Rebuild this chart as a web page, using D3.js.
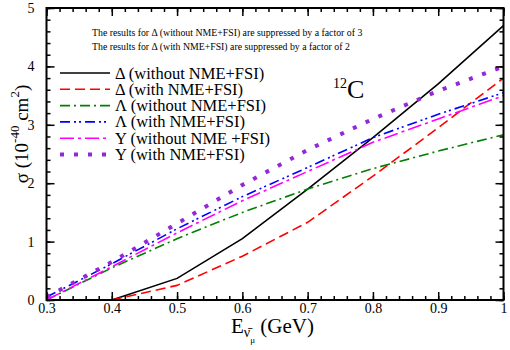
<!DOCTYPE html>
<html><head><meta charset="utf-8">
<script src="https://cdn.jsdelivr.net/npm/d3@7"></script>
<style>body{margin:0;background:#fff}svg{display:block}</style>
</head><body>
<script>
const energies = [0.3,0.4,0.5,0.6,0.7,0.8,0.9,1.0];
const deltaWithout = [null,0,0.37,1.05,1.9,2.78,3.7,4.7];
const deltaWith    = [null,0,0.25,0.75,1.33,2.12,2.95,3.8];
const lambdaWithout= [0,0.55,1.05,1.5,1.9,2.25,2.55,2.83];
const lambdaWith   = [0.05,0.62,1.22,1.77,2.27,2.78,3.18,3.55];
const yWithout     = [0,0.57,1.15,1.7,2.2,2.7,3.1,3.5];
const yWith        = [0.05,0.65,1.31,1.97,2.57,3.1,3.58,4.0];
const seriesNames = ["Δ (without NME+FSI)","Δ (with NME+FSI)","Λ (without NME+FSI)","Λ (with NME+FSI)","Y (without NME +FSI)","Y (with NME+FSI)"];
const seriesValues = [deltaWithout,deltaWith,lambdaWithout,lambdaWith,yWithout,yWith];
const colors = ["#000000","#ff0000","#008000","#0000ff","#ff00ff","#9329d6"];
const dashes = [null,"10,5","10,4,2,4","10,4,2,3,2,4","14,4,3,4","4,10"];
const widths = [1.6,1.6,1.6,1.6,1.6,4];
const xTicks = [0.3,0.4,0.5,0.6,0.7,0.8,0.9,1];
const yTicks = [0,1,2,3,4,5];
const notes = ["The results for Δ (without NME+FSI) are suppressed by a factor of 3",
               "The results for Δ (with NME+FSI) are suppressed by a factor of 2"];

const FF = "Liberation Serif";
const W=510,H=350, L=46.5, R=503.5, T=8, B=300;
const svg=d3.select("body").append("svg").attr("width",W).attr("height",H).attr("font-family",FF);
const x=d3.scaleLinear().domain([0.3,1]).range([L,R]);
const y=d3.scaleLinear().domain([0,5]).range([B,T]);

svg.append("clipPath").attr("id","c").append("rect").attr("x",L).attr("y",T-3).attr("width",R-L).attr("height",B-T+3);
const line=d3.line().defined(d=>d[1]!=null).x(d=>x(d[0])).y(d=>y(d[1]));
const g=svg.append("g").attr("clip-path","url(#c)");
seriesValues.forEach((vals,i)=>{
  g.append("path").datum(energies.map((e,j)=>[e,vals[j]]))
   .attr("d",line).attr("fill","none").attr("stroke",colors[i])
   .attr("stroke-width",widths[i]).attr("stroke-dasharray",dashes[i]);
});

const fs=14;
const xMinor=d3.range(0.3,1.0001,0.02);
const yMinor=d3.range(0,5.0001,0.2);
function styleText(a){a.attr("font-family",FF);a.selectAll("text").attr("font-size",fs).attr("fill","#000").attr("font-family",FF);}
svg.append("g").attr("transform",`translate(0,${B})`)
  .call(d3.axisBottom(x).tickValues(xMinor).tickSize(-4).tickFormat(""))
  .call(a=>a.select(".domain").remove());
svg.append("g").attr("transform",`translate(0,${B})`)
  .call(d3.axisBottom(x).tickValues(xTicks).tickSize(-8).tickPadding(3).tickFormat(d=>d===1?"1":d3.format(".1f")(d)))
  .call(a=>a.select(".domain").remove())
  .call(styleText);
svg.append("g").attr("transform",`translate(0,${T})`)
  .call(d3.axisTop(x).tickValues(xMinor).tickSize(-4).tickFormat(""))
  .call(a=>a.select(".domain").remove());
svg.append("g").attr("transform",`translate(0,${T})`)
  .call(d3.axisTop(x).tickValues(xTicks).tickSize(-8).tickFormat(""))
  .call(a=>a.select(".domain").remove());
svg.append("g").attr("transform",`translate(${L},0)`)
  .call(d3.axisLeft(y).tickValues(yMinor).tickSize(-4).tickFormat(""))
  .call(a=>a.select(".domain").remove());
svg.append("g").attr("transform",`translate(${L},0)`)
  .call(d3.axisLeft(y).tickValues(yTicks).tickSize(-8).tickPadding(12).tickFormat(d3.format("d")))
  .call(a=>a.select(".domain").remove())
  .call(styleText);
svg.append("g").attr("transform",`translate(${R},0)`)
  .call(d3.axisRight(y).tickValues(yMinor).tickSize(-4).tickFormat(""))
  .call(a=>a.select(".domain").remove());
svg.append("g").attr("transform",`translate(${R},0)`)
  .call(d3.axisRight(y).tickValues(yTicks).tickSize(-8).tickFormat(""))
  .call(a=>a.select(".domain").remove());
svg.selectAll(".tick line").attr("stroke","#000").attr("stroke-width",1.5);
svg.append("rect").attr("x",L).attr("y",T).attr("width",R-L).attr("height",B-T)
  .attr("fill","none").attr("stroke","#000").attr("stroke-width",2);

notes.forEach((t,i)=>{
  svg.append("text").attr("x",92).attr("y",36+i*13.5).attr("font-size",9.8).attr("font-family",FF).text(t);
});
seriesNames.forEach((n,i)=>{
  const yy=73+i*16.3;
  svg.append("line").attr("x1",60).attr("x2",110).attr("y1",yy).attr("y2",yy)
    .attr("stroke",colors[i]).attr("stroke-width",widths[i]).attr("stroke-dasharray",dashes[i]);
  svg.append("text").attr("x",115).attr("y",yy+5.5).attr("font-size",16.5).attr("font-family",FF).text(n);
});
const c=svg.append("text").attr("x",333).attr("y",98).attr("font-size",26).attr("font-family",FF);
c.append("tspan").attr("font-size",14).attr("dy",-10).text("12");
c.append("tspan").attr("dy",10).text("C");

const yl=svg.append("text").attr("transform","translate(28,134) rotate(-90)").attr("text-anchor","middle").attr("font-size",19).attr("font-family",FF);
yl.append("tspan").text("σ (10");
yl.append("tspan").attr("font-size",13).attr("dy",-9).text("-40");
yl.append("tspan").attr("dy",9).text(" cm");
yl.append("tspan").attr("font-size",13).attr("dy",-9).text("2");
yl.append("tspan").attr("dy",9).text(")");

const xl=svg.append("text").attr("x",231).attr("y",333).attr("font-size",21).attr("font-family",FF);
xl.append("tspan").text("E");
xl.append("tspan").attr("font-size",14).attr("dy",4).text("ν\u0304");
xl.append("tspan").attr("font-size",9).attr("dy",6).text("μ");
xl.append("tspan").attr("dy",-10).text("  (GeV)");
</script>
</body></html>
